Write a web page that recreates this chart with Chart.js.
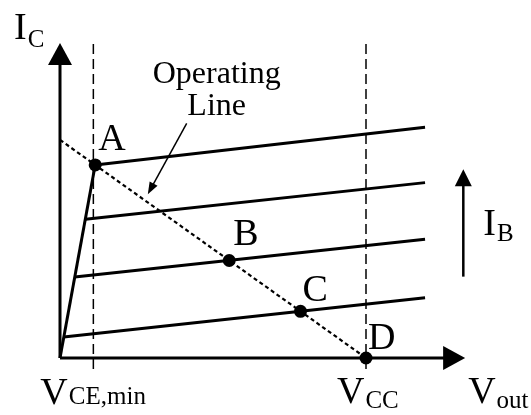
<!DOCTYPE html>
<html>
<head>
<meta charset="utf-8">
<title>Transistor output characteristics</title>
<script src="https://cdn.jsdelivr.net/npm/chart.js@4.4.1/dist/chart.umd.min.js"></script>
<style>
  html, body { margin: 0; padding: 0; background: #fff; }
</style>
</head>
<body>
<canvas id="icChart" width="531" height="415"></canvas>
<script>
// collector curves, one per base current step (lowest last)
const curveStartX = [1.15, 0.83, 0.48, 0.12];
const curveStartY = [8.85, 6.36, 3.71, 0.96];
const curveEndX = [11.93, 11.93, 11.93, 11.93];
const curveEndY = [10.58, 8.04, 5.44, 2.76];

// saturation edge, origin up to A
const saturationX = [0, 1.15];
const saturationY = [0, 8.85];

// operating (load) line
const loadLineX = [0, 10];
const loadLineY = [10, 0];

// marked points on the load line
const pointNames = ['A', 'B', 'C', 'D'];
const pointX = [1.15, 5.53, 7.86, 10];
const pointY = [8.85, 4.47, 2.14, 0];

// vertical guides at V_CE,min and V_CC
const guideX = [1.09, 10];
const guideY = [-0.5, 14.5];

// axis lengths
const xAxisEnd = 13.24;
const yAxisEnd = 14.44;

// I_B direction arrow and the pointer under "Operating Line"
const ibArrowX = [13.18, 13.18];
const ibArrowY = [3.73, 8.65];
const pointerX = [4.14, 2.87];
const pointerY = [10.76, 7.51];

const BLACK = '#000';
const SERIF = '"Liberation Serif", "Times New Roman", serif';

function xy(xs, ys) {
    return xs.map((x, i) => ({ x: x, y: ys[i] }));
}

function lineSet(data, width, extra) {
    return Object.assign({
        data: data,
        showLine: true,
        borderColor: BLACK,
        borderWidth: width,
        pointRadius: 0,
        fill: false,
        clip: false
    }, extra || {});
}

const datasets = [];

// dots first so they sit on top
datasets.push({
    data: xy(pointX, pointY),
    showLine: false,
    pointRadius: 6.5,
    pointBackgroundColor: BLACK,
    pointBorderWidth: 0,
    clip: false
});

for (let i = 0; i < curveStartX.length; i++) {
    datasets.push(lineSet([
        { x: curveStartX[i], y: curveStartY[i] },
        { x: curveEndX[i], y: curveEndY[i] }
    ], 3));
}

datasets.push(lineSet(xy(saturationX, saturationY), 3));
datasets.push(lineSet(xy(loadLineX, loadLineY), 2.2, { borderDash: [4, 3] }));

guideX.forEach(gx => {
    datasets.push(lineSet([{ x: gx, y: guideY[0] }, { x: gx, y: guideY[1] }], 1.5, { borderDash: [10, 5] }));
});

datasets.push(lineSet([{ x: 0, y: 0 }, { x: xAxisEnd, y: 0 }], 3, { arrow: { length: 22, width: 24 } }));
datasets.push(lineSet([{ x: 0, y: 0 }, { x: 0, y: yAxisEnd }], 3, { arrow: { length: 22, width: 24 } }));
datasets.push(lineSet(xy(ibArrowX, ibArrowY), 2.5, { arrow: { length: 17, width: 17 } }));
datasets.push(lineSet(xy(pointerX, pointerY), 1.5, { arrow: { length: 12, width: 9 } }));

// text: main letter + subscript, placed relative to a data anchor
const textMarks = [
    { main: 'I', sub: 'C', at: [0, yAxisEnd], dx: -46, dy: -4, drop: 8 },
    { main: 'I', sub: 'B', at: [ibArrowX[0], ibArrowY[0]], dx: 20, dy: -42, drop: 6 },
    { main: 'V', sub: 'CE,min', at: [guideX[0], 0], dx: -53, dy: 46, drop: 0 },
    { main: 'V', sub: 'CC', at: [guideX[1], 0], dx: -29, dy: 45, drop: 5 },
    { main: 'V', sub: 'out', at: [xAxisEnd, 0], dx: 3, dy: 45, drop: 5 }
];
const pointLabelOffsets = [[3, -15], [4, -15], [2, -10], [2, -9]];

// shortens lines that end in an arrow, then draws the head
const arrowHeads = {
    id: 'arrowHeads',
    afterDatasetUpdate(chart, args) {
        const ds = chart.data.datasets[args.index];
        if (!ds.arrow) return;
        const pts = args.meta.data;
        const tip = pts[pts.length - 1];
        const prev = pts[pts.length - 2];
        const dx = tip.x - prev.x, dy = tip.y - prev.y;
        const len = Math.hypot(dx, dy);
        const ux = dx / len, uy = dy / len;
        args.meta._arrowTip = { x: tip.x, y: tip.y, ux: ux, uy: uy };
        tip.x -= ux * ds.arrow.length * 0.6;
        tip.y -= uy * ds.arrow.length * 0.6;
    },
    afterDatasetDraw(chart, args) {
        const ds = chart.data.datasets[args.index];
        const t = args.meta._arrowTip;
        if (!ds.arrow || !t) return;
        const ctx = chart.ctx;
        const L = ds.arrow.length, W = ds.arrow.width / 2;
        const bx = t.x - t.ux * L, by = t.y - t.uy * L;
        ctx.save();
        ctx.fillStyle = BLACK;
        ctx.beginPath();
        ctx.moveTo(t.x, t.y);
        ctx.lineTo(bx - t.uy * W, by + t.ux * W);
        ctx.lineTo(bx + t.uy * W, by - t.ux * W);
        ctx.closePath();
        ctx.fill();
        ctx.restore();
    }
};

function drawSub(ctx, main, sub, x, y, drop) {
    ctx.font = '38px ' + SERIF;
    ctx.fillText(main, x, y);
    const w = ctx.measureText(main).width;
    ctx.font = '25px ' + SERIF;
    ctx.fillText(sub, x + w + 1, y + drop);
}

const textLabels = {
    id: 'textLabels',
    afterDraw(chart) {
        const ctx = chart.ctx;
        const xs = chart.scales.x, ys = chart.scales.y;
        ctx.save();
        ctx.fillStyle = BLACK;
        ctx.textBaseline = 'alphabetic';
        ctx.textAlign = 'left';

        textMarks.forEach(m => {
            const px = xs.getPixelForValue(m.at[0]) + m.dx;
            const py = ys.getPixelForValue(m.at[1]) + m.dy;
            drawSub(ctx, m.main, m.sub, px, py, m.drop);
        });

        ctx.font = '38px ' + SERIF;
        pointNames.forEach((name, i) => {
            const px = xs.getPixelForValue(pointX[i]) + pointLabelOffsets[i][0];
            const py = ys.getPixelForValue(pointY[i]) + pointLabelOffsets[i][1];
            ctx.fillText(name, px, py);
        });

        // caption above the pointer arrow
        ctx.font = '32px ' + SERIF;
        ctx.textAlign = 'center';
        const cx = xs.getPixelForValue(pointerX[0]) + 30;
        const cy = ys.getPixelForValue(pointerY[0]);
        ctx.fillText('Operating', cx, cy - 40);
        ctx.fillText('Line', cx, cy - 8);
        ctx.restore();
    }
};

new Chart(document.getElementById('icChart'), {
    type: 'scatter',
    data: { datasets: datasets },
    options: {
        responsive: false,
        animation: false,
        events: [],
        layout: {
            autoPadding: false,
            padding: { left: 60, right: 12, top: 9, bottom: 57 }
        },
        scales: {
            x: { type: 'linear', display: false, min: 0, max: 15 },
            y: { type: 'linear', display: false, min: 0, max: 16 }
        },
        plugins: {
            legend: { display: false },
            tooltip: { enabled: false }
        }
    },
    plugins: [arrowHeads, textLabels]
});
</script>
</body>
</html>
